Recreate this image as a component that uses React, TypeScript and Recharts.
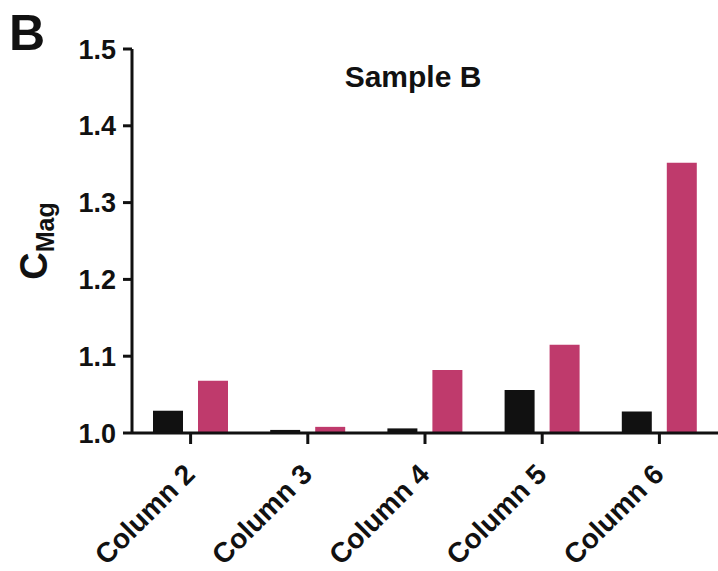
import React from 'react';
import { BarChart, Bar, XAxis, YAxis, Label } from 'recharts';

const categories = ['Column 2', 'Column 3', 'Column 4', 'Column 5', 'Column 6'];
const blackValues = [1.029, 1.004, 1.006, 1.056, 1.028];
const pinkValues = [1.068, 1.008, 1.082, 1.115, 1.352];
const yTicks = [1.0, 1.1, 1.2, 1.3, 1.4, 1.5];

const data = categories.map((name, i) => ({ name, black: blackValues[i], pink: pinkValues[i] }));

const FONT = '"Liberation Sans", Arial, Helvetica, sans-serif';
const INK = '#111111';
const PINK = '#BF3A6C';

const XTick = (props: any) => {
    const { x, y, payload } = props;
    const ax = x + 6;
    const ay = y + 32;
    return (
        <text
            x={ax}
            y={ay}
            transform={`rotate(-45, ${ax}, ${ay})`}
            textAnchor="end"
            fontFamily={FONT}
            fontWeight="bold"
            fontSize={28}
            fill={INK}
        >
            {payload.value}
        </text>
    );
};

const YLabel = (props: any) => {
    const { viewBox } = props;
    const x = viewBox.x - 25;
    const y = viewBox.y + viewBox.height / 2;
    return (
        <text
            x={x}
            y={y}
            transform={`rotate(-90, ${x}, ${y})`}
            textAnchor="middle"
            fontFamily={FONT}
            fontWeight="bold"
            fill={INK}
        >
            <tspan fontSize={38}>C</tspan>
            <tspan fontSize={25} dy={7}>Mag</tspan>
        </text>
    );
};

export default function App() {
    return (
        <div style={{ position: 'absolute', left: 0, top: 0, width: 718, height: 571, background: '#fff' }}>
            <BarChart
                width={718}
                height={571}
                data={data}
                margin={{ top: 49, right: 0, bottom: 18, left: 72 }}
                barSize={30}
                barGap={15}
            >
                <XAxis
                    dataKey="name"
                    height={120}
                    interval={0}
                    tickSize={11}
                    tickMargin={0}
                    axisLine={{ stroke: INK, strokeWidth: 3 }}
                    tickLine={{ stroke: INK, strokeWidth: 3 }}
                    tick={<XTick />}
                />
                <YAxis
                    type="number"
                    width={60}
                    domain={[1, 1.5]}
                    allowDataOverflow
                    ticks={yTicks}
                    tickFormatter={(v: number) => v.toFixed(1)}
                    tickSize={9}
                    tickMargin={7}
                    axisLine={{ stroke: INK, strokeWidth: 3 }}
                    tickLine={{ stroke: INK, strokeWidth: 3 }}
                    tick={{ fontFamily: FONT, fontWeight: 'bold', fontSize: 27, fill: INK }}
                >
                    <Label content={<YLabel />} />
                </YAxis>
                <Bar dataKey="black" fill={INK} isAnimationActive={false} />
                <Bar dataKey="pink" fill={PINK} isAnimationActive={false} />
            </BarChart>
            <svg
                width={718}
                height={571}
                style={{ position: 'absolute', left: 0, top: 0, pointerEvents: 'none' }}
            >
                <text x={9} y={50} fontFamily={FONT} fontWeight="bold" fontSize={50} fill={INK}>B</text>
                <text x={413} y={87} textAnchor="middle" fontFamily={FONT} fontWeight="bold" fontSize={30} fill={INK}>
                    Sample B
                </text>
            </svg>
        </div>
    );
}
